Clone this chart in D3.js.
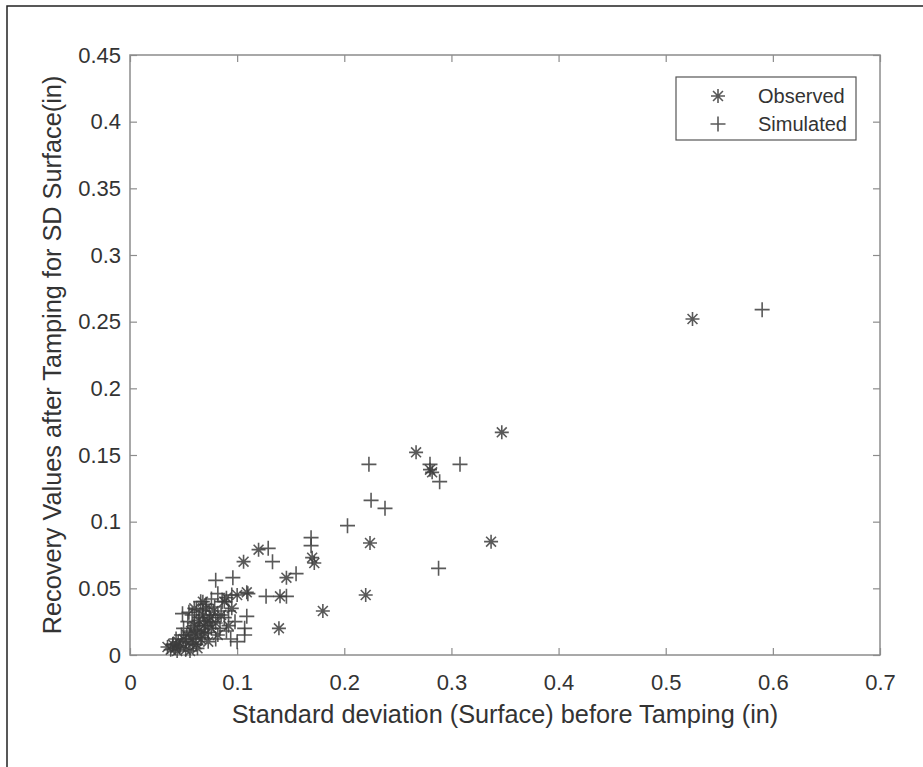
<!DOCTYPE html>
<html>
<head>
<meta charset="utf-8">
<script src="https://cdn.jsdelivr.net/npm/d3@7"></script>
<style>
  html, body { margin: 0; padding: 0; background: #fff; }
  svg { display: block; }
  text { font-family: "Liberation Sans", Arial, Helvetica, sans-serif; fill: #333; }
</style>
</head>
<body>
<svg id="chart" width="923" height="767"></svg>
<script>
// Observed recovery values (x: SD before tamping, y: recovery after tamping), inches
const observedX = [0.525, 0.347, 0.267, 0.280, 0.282, 0.337, 0.224, 0.220, 0.180, 0.139,
  0.170, 0.172, 0.106, 0.120, 0.146, 0.140, 0.109,
  0.035, 0.038, 0.040, 0.042, 0.045, 0.047, 0.050, 0.052, 0.053, 0.055, 0.057, 0.058,
  0.060, 0.061, 0.062, 0.064, 0.065, 0.066, 0.068, 0.069, 0.070, 0.071, 0.072, 0.073,
  0.075, 0.076, 0.078, 0.080, 0.082, 0.085, 0.088, 0.090, 0.092, 0.095, 0.100, 0.068, 0.060,
  0.044, 0.056, 0.063];
const observedY = [0.252, 0.167, 0.152, 0.139, 0.137, 0.085, 0.084, 0.045, 0.033, 0.020,
  0.073, 0.069, 0.070, 0.079, 0.058, 0.044, 0.047,
  0.006, 0.004, 0.008, 0.005, 0.010, 0.007, 0.012, 0.004, 0.015, 0.009, 0.018, 0.012,
  0.022, 0.015, 0.008, 0.026, 0.019, 0.012, 0.030, 0.022, 0.016, 0.035, 0.025, 0.010,
  0.028, 0.020, 0.033, 0.024, 0.015, 0.030, 0.040, 0.043, 0.022, 0.035, 0.045, 0.040, 0.035,
  0.003, 0.003, 0.005];

// Simulated recovery values
const simulatedX = [0.590, 0.308, 0.289, 0.280, 0.238, 0.225, 0.223, 0.203, 0.288,
  0.169, 0.169, 0.129, 0.133, 0.155, 0.096, 0.080, 0.110, 0.127, 0.146, 0.109, 0.107,
  0.107, 0.082, 0.049,
  0.040, 0.043, 0.046, 0.048, 0.050, 0.052, 0.054, 0.056, 0.058, 0.059, 0.060, 0.062,
  0.063, 0.065, 0.066, 0.067, 0.068, 0.070, 0.071, 0.073, 0.074, 0.076, 0.077, 0.079,
  0.080, 0.082, 0.084, 0.086, 0.088, 0.090, 0.092, 0.094, 0.095, 0.098, 0.100, 0.055];
const simulatedY = [0.259, 0.143, 0.130, 0.143, 0.110, 0.116, 0.143, 0.097, 0.065,
  0.088, 0.082, 0.080, 0.070, 0.061, 0.058, 0.056, 0.046, 0.044, 0.044, 0.029, 0.020,
  0.015, 0.046, 0.031,
  0.008, 0.012, 0.006, 0.015, 0.020, 0.010, 0.025, 0.017, 0.030, 0.008, 0.024, 0.034,
  0.018, 0.028, 0.040, 0.013, 0.033, 0.022, 0.038, 0.017, 0.030, 0.042, 0.025, 0.036,
  0.012, 0.030, 0.020, 0.040, 0.028, 0.018, 0.033, 0.012, 0.045, 0.025, 0.010, 0.032];

const xTicks = [0, 0.1, 0.2, 0.3, 0.4, 0.5, 0.6, 0.7];
const yTicks = [0, 0.05, 0.1, 0.15, 0.2, 0.25, 0.3, 0.35, 0.4, 0.45];
const legendLabels = ["Observed", "Simulated"];

const svg = d3.select("#chart");
const W = 923, H = 767;
const margin = { left: 130, top: 55, right: W - 880, bottom: H - 655 };
const pw = W - margin.left - margin.right;
const ph = H - margin.top - margin.bottom;

// Figure frame
svg.append("path")
  .attr("d", `M7,${H + 5} L7,6 L${W + 5},6`)
  .attr("fill", "none").attr("stroke", "#222").attr("stroke-width", 1.5);

const x = d3.scaleLinear().domain([0, 0.7]).range([margin.left, margin.left + pw]);
const y = d3.scaleLinear().domain([0, 0.45]).range([margin.top + ph, margin.top]);

const fmt = d => d === 0 ? "0" : d3.format("~g")(d);
const axisColor = "#8c8c8c";
const tickLen = 7;

function styleAxis(g) {
  g.select(".domain").remove();
  g.selectAll(".tick line").attr("stroke", axisColor).attr("stroke-width", 1.2);
  g.selectAll(".tick text").style("font-size", "22px").attr("fill", "#333");
}

// Bottom and left axes with inward ticks
svg.append("g").attr("transform", `translate(0,${margin.top + ph})`)
  .call(d3.axisBottom(x).tickValues(xTicks).tickFormat(fmt).tickSizeInner(-tickLen).tickSizeOuter(0).tickPadding(19))
  .call(styleAxis);
svg.append("g").attr("transform", `translate(${margin.left},0)`)
  .call(d3.axisLeft(y).tickValues(yTicks).tickFormat(fmt).tickSizeInner(-tickLen).tickSizeOuter(0).tickPadding(9))
  .call(styleAxis);
// Top and right axes: ticks only
svg.append("g").attr("transform", `translate(0,${margin.top})`)
  .call(d3.axisTop(x).tickValues(xTicks).tickFormat("").tickSizeInner(-tickLen).tickSizeOuter(0))
  .call(styleAxis);
svg.append("g").attr("transform", `translate(${margin.left + pw},0)`)
  .call(d3.axisRight(y).tickValues(yTicks).tickFormat("").tickSizeInner(-tickLen).tickSizeOuter(0))
  .call(styleAxis);

// Plot box
svg.append("rect")
  .attr("x", margin.left).attr("y", margin.top).attr("width", pw).attr("height", ph)
  .attr("fill", "none").attr("stroke", axisColor).attr("stroke-width", 1.5);

// Marker shapes
function starPath(r) {
  const d = r * Math.SQRT1_2;
  return `M${-r},0L${r},0M0,${-r}L0,${r}M${-d},${-d}L${d},${d}M${-d},${d}L${d},${-d}`;
}
function plusPath(r) {
  return `M${-r},0L${r},0M0,${-r}L0,${r}`;
}
const markColor = "#3c3c3c";
const starR = 7, plusR = 7.5;

const observed = observedX.map((v, i) => ({ x: v, y: observedY[i] }));
const simulated = simulatedX.map((v, i) => ({ x: v, y: simulatedY[i] }));

const plot = svg.append("g");
plot.selectAll("path.obs").data(observed).join("path")
  .attr("class", "obs")
  .attr("transform", d => `translate(${x(d.x)},${y(d.y)})`)
  .attr("d", starPath(starR))
  .attr("fill", "none").attr("stroke", markColor).attr("stroke-width", 1.6).attr("stroke-opacity", 0.85);
plot.selectAll("path.sim").data(simulated).join("path")
  .attr("class", "sim")
  .attr("transform", d => `translate(${x(d.x)},${y(d.y)})`)
  .attr("d", plusPath(plusR))
  .attr("fill", "none").attr("stroke", markColor).attr("stroke-width", 1.6).attr("stroke-opacity", 0.85);

// Axis titles
svg.append("text")
  .attr("x", margin.left + pw / 2).attr("y", 723)
  .attr("text-anchor", "middle").style("font-size", "25.3px")
  .text("Standard deviation (Surface) before Tamping (in)");
svg.append("text")
  .attr("transform", `translate(61,${margin.top + ph / 2}) rotate(-90)`)
  .attr("text-anchor", "middle").style("font-size", "25.3px")
  .text("Recovery Values after Tamping for SD Surface(in)");

// Legend
const lg = svg.append("g");
lg.append("rect")
  .attr("x", 676).attr("y", 77).attr("width", 856 - 676).attr("height", 140 - 77)
  .attr("fill", "#fff").attr("stroke", "#555").attr("stroke-width", 1.2);
const legendShapes = [starPath(starR), plusPath(plusR)];
legendLabels.forEach((lab, i) => {
  const cy = 96 + i * 28;
  lg.append("path").attr("transform", `translate(718,${cy})`).attr("d", legendShapes[i])
    .attr("fill", "none").attr("stroke", markColor).attr("stroke-width", 1.6).attr("stroke-opacity", 0.85);
  lg.append("text").attr("x", 758).attr("y", cy + 7).style("font-size", "20px").text(lab);
});
</script>
</body>
</html>
